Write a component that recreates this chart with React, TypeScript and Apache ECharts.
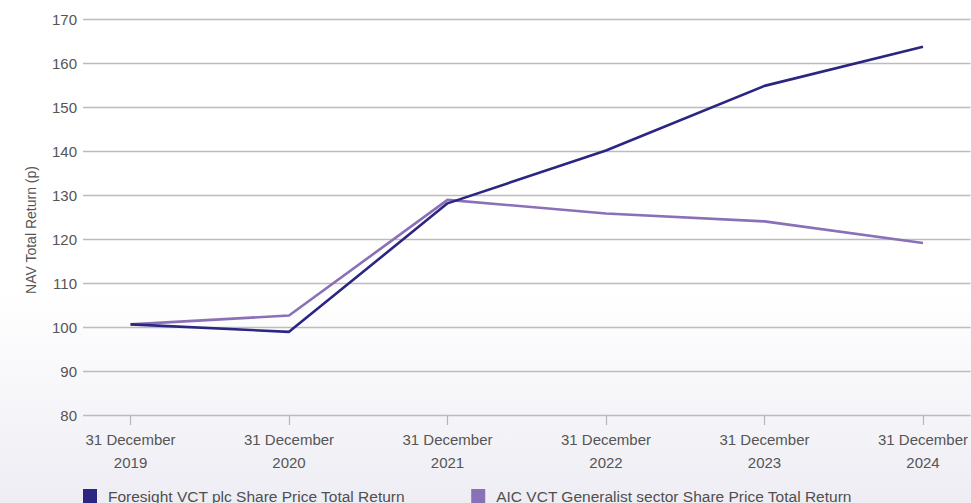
import React, { useEffect, useRef } from "react";
import * as echarts from "echarts";

const categories = ["31 December\n2019", "31 December\n2020", "31 December\n2021", "31 December\n2022", "31 December\n2023", "31 December\n2024"];
const foresight = [100.6, 98.9, 128.1, 140.1, 154.8, 163.7];
const aic = [100.6, 102.6, 128.9, 125.8, 124.0, 119.1];
const seriesNames = ["Foresight VCT plc Share Price Total Return", "AIC VCT Generalist sector Share Price Total Return"];
const yTicks = { min: 80, max: 170, step: 10 };

const FONT = "'Liberation Sans', Arial, sans-serif";

export default function App() {
  const ref = useRef<HTMLDivElement>(null);
  useEffect(() => {
    if (!ref.current) return;
    const chart = echarts.init(ref.current, null, { renderer: "svg" });
    const idx = categories.map((_, i) => i);
    chart.setOption({
      animation: false,
      textStyle: { fontFamily: FONT },
      grid: { left: 83, right: 0, top: 19, bottom: 88, containLabel: false },
      legend: {
        left: 78,
        top: 483,
        icon: "rect",
        itemWidth: 14,
        itemHeight: 14,
        itemGap: 66,
        textStyle: { fontFamily: FONT, fontSize: 15.5, color: "#4f4f4f", padding: [0, 0, 0, 6] },
        data: seriesNames,
      },
      xAxis: {
        type: "value",
        min: -0.3,
        max: 5.3,
        axisLine: { show: false },
        splitLine: { show: false },
        axisTick: { show: true, length: 10, customValues: idx, lineStyle: { color: "#b5b5b5", width: 1.2 } },
        axisLabel: {
          customValues: idx,
          formatter: (v: number) => categories[Math.round(v)] ?? "",
          color: "#555",
          fontSize: 15,
          lineHeight: 23,
          margin: 13,
          fontFamily: FONT,
        },
      },
      yAxis: {
        type: "value",
        min: yTicks.min,
        max: yTicks.max,
        interval: yTicks.step,
        axisLine: { show: false },
        axisTick: { show: false },
        axisLabel: { color: "#555", fontSize: 15, margin: 6, fontFamily: FONT },
        splitLine: { lineStyle: { color: "#bcbcbc", width: 1.3 } },
      },
      graphic: [
        {
          type: "text",
          x: 31,
          y: 230,
          rotation: Math.PI / 2,
          style: {
            text: "NAV Total Return (p)",
            fill: "#555",
            font: `14px ${FONT}`,
            textAlign: "center",
            textVerticalAlign: "middle",
          },
        },
      ],
      series: [
        {
          name: seriesNames[0],
          type: "line",
          data: foresight.map((v, i) => [i, v]),
          symbol: "none",
          lineStyle: { color: "#2b2681", width: 2.6 },
          itemStyle: { color: "#2b2681" },
          z: 3,
        },
        {
          name: seriesNames[1],
          type: "line",
          data: aic.map((v, i) => [i, v]),
          symbol: "none",
          lineStyle: { color: "#8a70b6", width: 2.6 },
          itemStyle: { color: "#8a70b6" },
          z: 2,
        },
      ],
    });
    return () => chart.dispose();
  }, []);
  return (
    <div
      style={{
        position: "absolute",
        left: 0,
        top: 0,
        width: 971,
        height: 503,
        background: "linear-gradient(to bottom, #ffffff 0%, #ffffff 58%, #eeedf4 100%)",
      }}
    >
      <div ref={ref} style={{ width: 971, height: 503 }} />
    </div>
  );
}
